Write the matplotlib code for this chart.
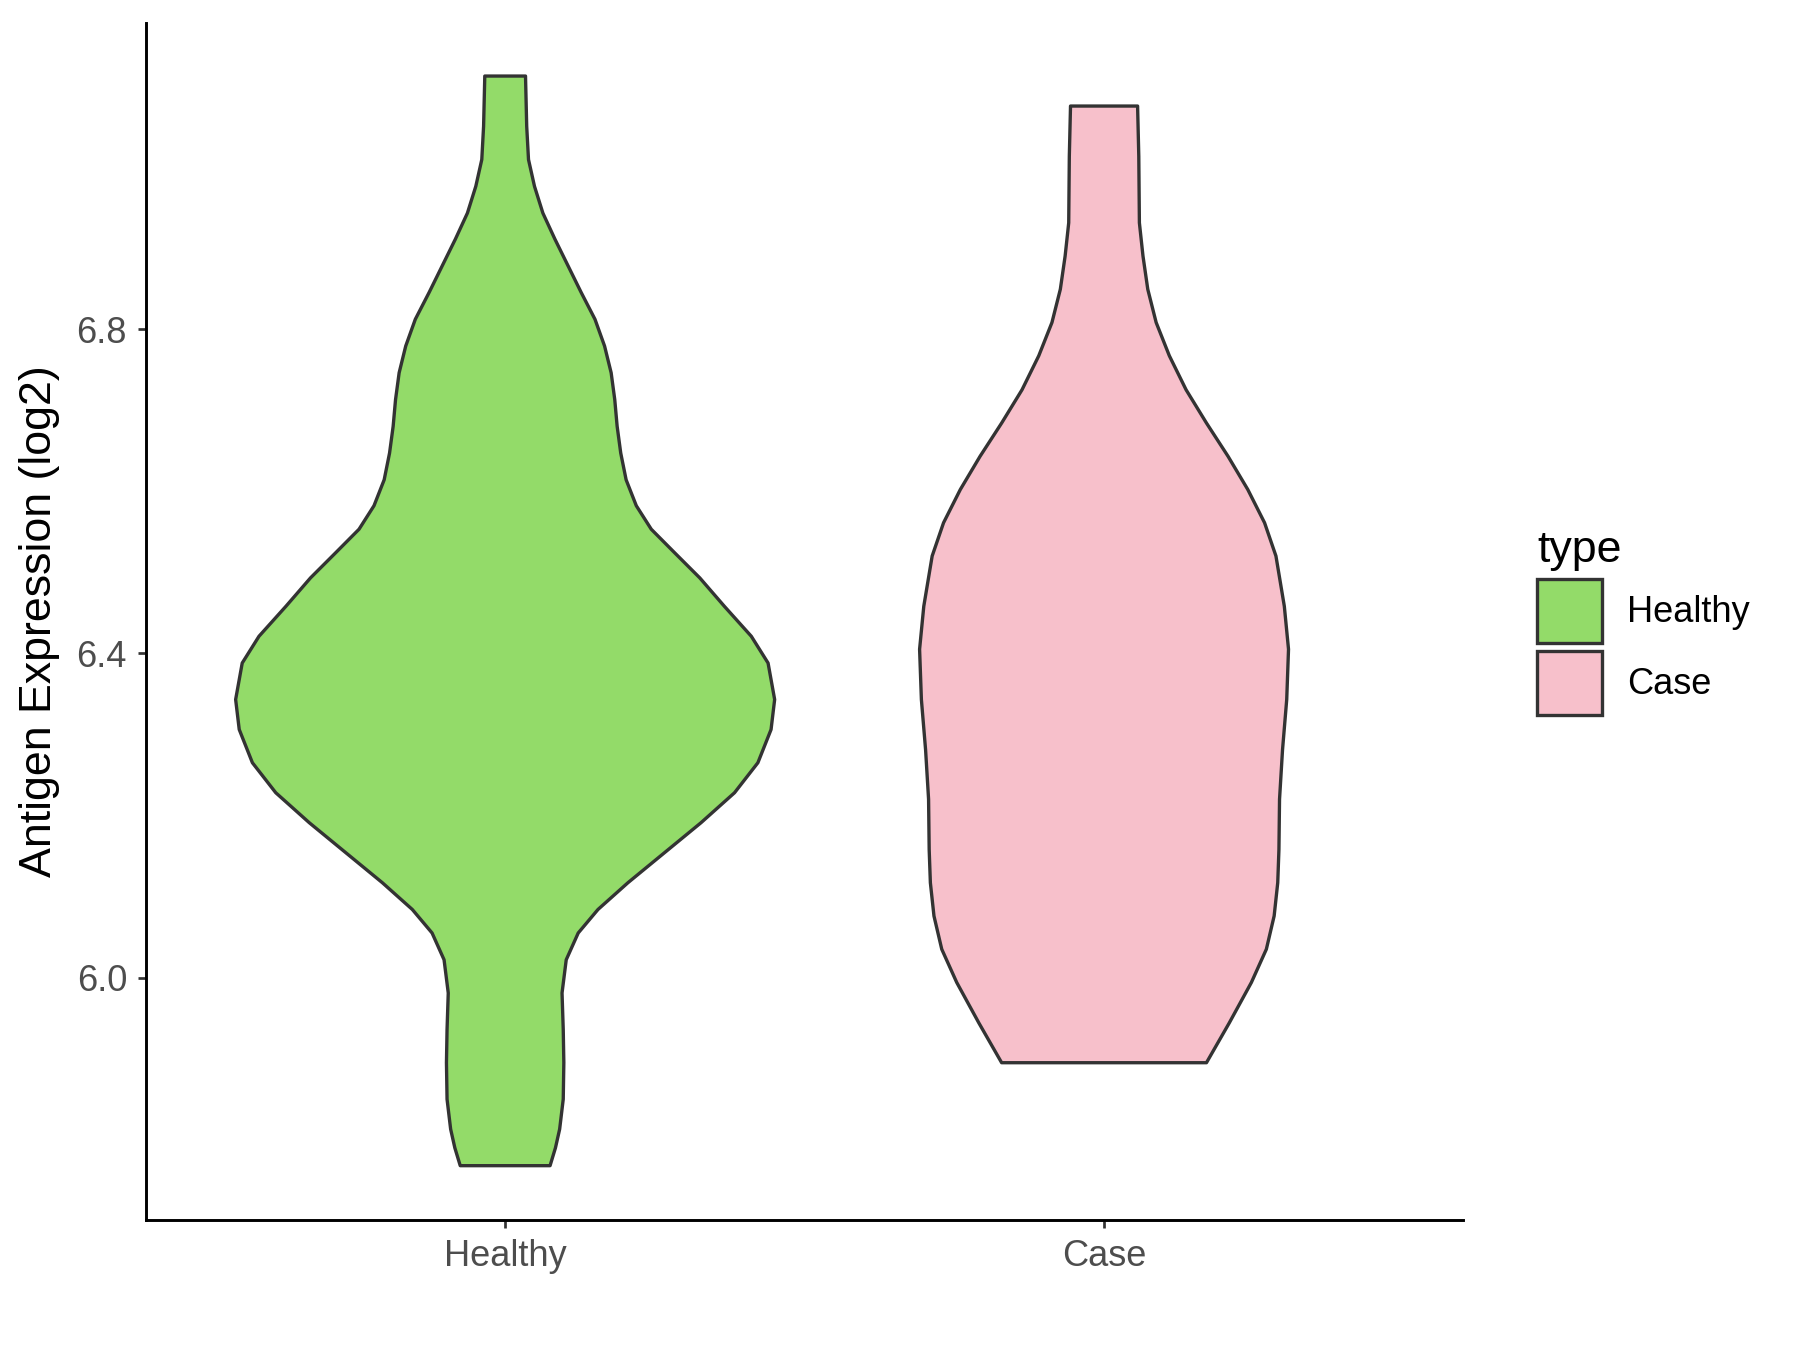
import matplotlib
matplotlib.use("Agg")
import matplotlib.pyplot as plt
from matplotlib.patches import Patch

plt.rcParams['font.family'] = ['Liberation Sans', 'DejaVu Sans']

categories = ['Healthy', 'Case']
colors = ['#93DB69', '#F7C0CB']

# violin outlines: expression value and half-width (category units)
healthy_y = [7.112, 7.050, 7.009, 6.976, 6.943, 6.911, 6.878, 6.845, 6.812, 6.779,
             6.746, 6.713, 6.680, 6.647, 6.614, 6.582, 6.553, 6.524, 6.493, 6.458,
             6.421, 6.388, 6.343, 6.306, 6.265, 6.228, 6.191, 6.154, 6.117, 6.084,
             6.055, 6.022, 5.981, 5.936, 5.895, 5.850, 5.813, 5.790, 5.768]
healthy_w = [0.034, 0.036, 0.039, 0.049, 0.063, 0.083, 0.105, 0.127, 0.150, 0.166,
             0.177, 0.183, 0.187, 0.193, 0.202, 0.219, 0.244, 0.283, 0.325, 0.366,
             0.411, 0.439, 0.450, 0.444, 0.422, 0.383, 0.327, 0.266, 0.205, 0.155,
             0.122, 0.102, 0.095, 0.097, 0.098, 0.097, 0.091, 0.084, 0.075]

case_y = [7.075, 7.013, 6.931, 6.890, 6.849, 6.808, 6.767, 6.725, 6.684, 6.643,
          6.602, 6.561, 6.520, 6.458, 6.405, 6.343, 6.281, 6.220, 6.158, 6.117,
          6.076, 6.035, 5.994, 5.944, 5.895]
case_w = [0.056, 0.058, 0.059, 0.065, 0.073, 0.087, 0.109, 0.137, 0.171, 0.207,
          0.240, 0.268, 0.287, 0.301, 0.308, 0.305, 0.298, 0.293, 0.292, 0.290,
          0.284, 0.271, 0.246, 0.209, 0.171]

outlines = [(healthy_y, healthy_w), (case_y, case_w)]

fig = plt.figure(figsize=(12, 9), dpi=150)
ax = fig.add_axes([0.081, 0.0963, 0.732, 0.887])

for i, ((ys, ws), col) in enumerate(zip(outlines, colors), 1):
    left = [i - w for w in ws]
    right = [i + w for w in ws]
    xs = left + right[::-1] + [left[0]]
    yy = ys + ys[::-1] + [ys[0]]
    ax.fill(xs, yy, facecolor=col, edgecolor='#333333', linewidth=1.6, joinstyle='round')

ax.set_xlim(0.4, 2.6)
ax.set_ylim(5.701, 7.178)
ax.set_xticks([1, 2])
ax.set_xticklabels(categories)
ax.set_yticks([6.0, 6.4, 6.8])
ax.set_yticklabels(['6.0', '6.4', '6.8'])
ax.set_ylabel('Antigen Expression (log2)', fontsize=21.5, labelpad=8)

for s in ['top', 'right']:
    ax.spines[s].set_visible(False)
for s in ['left', 'bottom']:
    ax.spines[s].set_linewidth(1.4)
    ax.spines[s].set_color('black')
ax.tick_params(axis='both', length=4, width=1.3, color='#333333',
               labelsize=17.4, labelcolor='#4D4D4D', pad=5)

handles = [Patch(facecolor=c, edgecolor='#333333', linewidth=1.6, label=l)
           for c, l in zip(colors, categories)]
leg = fig.legend(handles=handles, title='type', loc='center left',
                 bbox_to_anchor=(0.836, 0.539), frameon=False, fontsize=17.4,
                 title_fontsize=21.5, handlelength=1.77, handleheight=2.34,
                 labelspacing=0.22, handletextpad=0.7, alignment='left')

fig.savefig('out.png', dpi=150, facecolor='white')
